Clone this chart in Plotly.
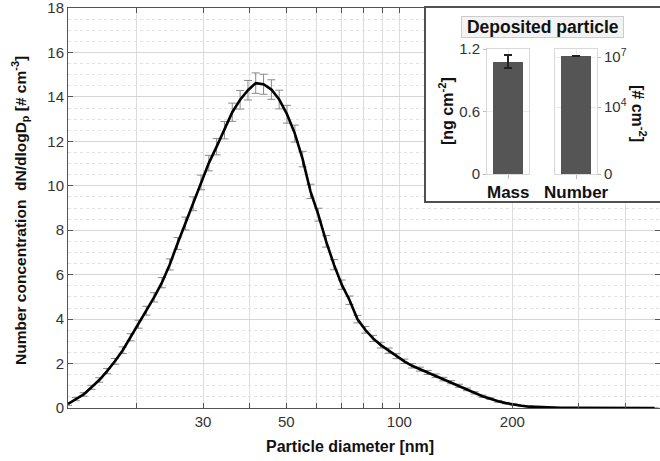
import plotly.graph_objects as go
import math

# ---------------- data ----------------
diameter_nm = [13.10, 13.74, 14.42, 15.13, 15.87, 16.65, 17.47, 18.33, 19.23, 20.18,
               21.17, 22.21, 23.30, 24.45, 25.65, 26.91, 28.23, 29.62, 31.07, 32.60,
               34.20, 35.88, 37.65, 39.50, 41.43, 43.47, 45.61, 47.85, 50.20, 52.67,
               55.25, 57.97, 60.82, 63.81, 66.94, 70.23, 73.68, 77.30, 81.10, 85.09,
               89.27, 93.65, 98.26, 103.1, 108.1, 113.4, 119.0, 124.9, 131.0, 137.4,
               144.2, 151.3, 158.7, 166.5, 174.7, 183.3, 192.3, 201.7, 211.6, 222.0,
               232.9, 244.4, 256.4, 269.0, 282.2, 296.1, 310.6, 325.9, 341.9, 358.7,
               376.3, 394.8, 414.2, 434.6, 455.9, 478.3]

dn_dlogdp = [0.18, 0.40, 0.61, 0.93, 1.26, 1.66, 2.10, 2.60, 3.18, 3.77,
             4.38, 4.98, 5.64, 6.46, 7.40, 8.30, 9.19, 10.15, 11.02, 11.76,
             12.50, 13.31, 13.87, 14.30, 14.62, 14.57, 14.33, 13.88, 13.22, 12.35,
             11.20, 9.75, 8.70, 7.50, 6.45, 5.55, 4.85, 4.00, 3.52, 3.13,
             2.83, 2.58, 2.33, 2.10, 1.90, 1.75, 1.60, 1.45, 1.30, 1.16,
             1.00, 0.84, 0.68, 0.53, 0.42, 0.30, 0.22, 0.15, 0.10, 0.06,
             0.04, 0.02, 0.01, 0.005, 0.004, 0.003, 0.002, 0.002, 0.001, 0.001,
             0.001, 0.0, 0.0, 0.0, 0.0, 0.0]

dn_err = [0.06, 0.07, 0.08, 0.09, 0.10, 0.12, 0.13, 0.15, 0.16, 0.18,
          0.20, 0.21, 0.23, 0.25, 0.27, 0.29, 0.31, 0.33, 0.35, 0.37,
          0.39, 0.41, 0.42, 0.44, 0.46, 0.45, 0.44, 0.42, 0.40, 0.38,
          0.35, 0.32, 0.29, 0.26, 0.23, 0.21, 0.19, 0.17, 0.15, 0.14,
          0.13, 0.12, 0.11, 0.10, 0.10, 0.09, 0.09, 0.08, 0.08, 0.07,
          0.07, 0.06, 0.05, 0.05, 0.04, 0.04, 0.03, 0.03, 0.02, 0.02,
          0.01, 0.01, 0.01, 0.0, 0.0, 0.0, 0.0, 0.0, 0.0, 0.0,
          0.0, 0.0, 0.0, 0.0, 0.0, 0.0]

x_tick_vals = [30, 50, 100, 200]
x_tick_text = ["30", "50", "100", "200"]
x_minor_vals = [20, 40, 60, 70, 80, 90, 300, 400]

mass_label = ["Mass"]
mass_value = [1.08]
mass_err = [0.062]

number_label = ["Number"]
number_value = [1.15e7]
number_err = [0.04e7]

FONT = "Liberation Sans, Arial, Helvetica, sans-serif"

# ---------------- pixel layout helpers ----------------
W, H = 660, 461
L, R, T, B = 68, 0, 8, 53
PW, PH = W - L - R, H - T - B


def px(X):
    return (X - L) / PW


def py(Y):
    return (H - B - Y) / PH


fig = go.Figure()

# main curve with error bars
fig.add_trace(go.Scatter(
    x=diameter_nm, y=dn_dlogdp, mode="lines",
    line=dict(color="black", width=2.6),
    error_y=dict(type="data", array=dn_err, visible=True,
                 color="#8a8a8a", thickness=1, width=4),
    showlegend=False, hoverinfo="skip", xaxis="x", yaxis="y"))

# dummy trace for inset background subplot
fig.add_trace(go.Scatter(x=[], y=[], xaxis="x2", yaxis="y2",
                         showlegend=False, hoverinfo="skip"))

# mass bar
fig.add_trace(go.Bar(
    x=[0], y=mass_value, width=1.0, marker=dict(color="#555555", line=dict(width=0)),
    error_y=dict(type="data", array=mass_err, color="#222", thickness=1.2, width=4),
    showlegend=False, hoverinfo="skip", xaxis="x3", yaxis="y3"))

# number bar (log axis)
fig.add_trace(go.Bar(
    x=[0], y=number_value, base=1, width=1.0, marker=dict(color="#555555", line=dict(width=0)),
    error_y=dict(type="data", array=number_err, color="#222", thickness=1.2, width=4),
    showlegend=False, hoverinfo="skip", xaxis="x4", yaxis="y4"))

xlo = math.log10(diameter_nm[0])
xhi = xlo + PW / 375.4

axis_col = "#555555"
tick_font = dict(family=FONT, size=15, color="#333333")

inset_x0, inset_y0 = 426, 201
mass_dom_x = [px(487), px(529)]
num_dom_x = [px(555), px(597)]
bar_dom_y = [py(174), py(49)]

fig.update_layout(
    width=W, height=H,
    margin=dict(l=L, r=R, t=T, b=B, autoexpand=False),
    paper_bgcolor="white", plot_bgcolor="white",
    font=dict(family=FONT, color="#222"),
    bargap=0,
    xaxis=dict(
        type="log", range=[xlo, xhi], domain=[0, 1], anchor="y",
        tickmode="array", tickvals=x_tick_vals, ticktext=x_tick_text,
        ticks="inside", ticklen=5, tickcolor=axis_col,
        minor=dict(tickmode="array", tickvals=x_minor_vals, ticks="inside",
                   ticklen=5, tickcolor=axis_col, showgrid=True,
                   gridcolor="#dddddd", gridwidth=1),
        showline=True, linecolor=axis_col, linewidth=1, mirror="ticks",
        showgrid=True, gridcolor="#dddddd", gridwidth=1,
        zeroline=False, tickfont=tick_font),
    yaxis=dict(
        range=[0, 18], domain=[0, 1], anchor="x",
        tickmode="linear", tick0=0, dtick=2,
        ticks="inside", ticklen=5, tickcolor=axis_col,
        showline=True, linecolor=axis_col, linewidth=1, mirror="ticks",
        showgrid=True, gridcolor="#d6d6d6", gridwidth=1,
        minor=dict(dtick=0.5, showgrid=True, gridcolor="#e2e2e2", griddash="dot", ticks=""),
        zeroline=False, tickfont=tick_font, ticklabeloverflow="allow"),
    # inset background
    xaxis2=dict(domain=[px(inset_x0), 1.0], range=[0, 1], anchor="y2",
                showgrid=False, zeroline=False, showticklabels=False, ticks="",
                showline=True, linecolor="#505050", linewidth=1.5, mirror=True),
    yaxis2=dict(domain=[py(inset_y0), 1.0], range=[0, 1], anchor="x2",
                showgrid=False, zeroline=False, showticklabels=False, ticks="",
                showline=True, linecolor="#505050", linewidth=1.5, mirror=True),
    # mass panel
    xaxis3=dict(domain=mass_dom_x, range=[-0.68, 0.68], anchor="y3",
                tickmode="array", tickvals=[0], showticklabels=False,
                ticks="outside", ticklen=4, tickcolor="#bbbbbb",
                showgrid=True, gridcolor="#ebebeb", zeroline=False,
                showline=True, linecolor="#d9d9d9", mirror=True),
    yaxis3=dict(domain=bar_dom_y, range=[0, 1.2], anchor="x3",
                tickmode="array", tickvals=[0, 0.6, 1.2], ticktext=["0", "0.6", "1.2"],
                ticks="outside", ticklen=3, tickcolor="#bbbbbb",
                showgrid=True, gridcolor="#ebebeb", zeroline=False,
                showline=True, linecolor="#d9d9d9", mirror=True,
                tickfont=dict(family=FONT, size=15, color="#333")),
    # number panel
    xaxis4=dict(domain=num_dom_x, range=[-0.68, 0.68], anchor="y4",
                tickmode="array", tickvals=[0], showticklabels=False,
                ticks="outside", ticklen=4, tickcolor="#bbbbbb",
                showgrid=True, gridcolor="#ebebeb", zeroline=False,
                showline=True, linecolor="#d9d9d9", mirror=True),
    yaxis4=dict(domain=bar_dom_y, type="log", range=[0, 7.48], anchor="x4", side="right",
                tickmode="array", tickvals=[1, 1e4, 1e7],
                ticktext=["0", "10<sup>4</sup>", "10<sup>7</sup>"],
                ticks="outside", ticklen=3, tickcolor="#bbbbbb",
                showgrid=True, gridcolor="#ebebeb", zeroline=False,
                showline=True, linecolor="#d9d9d9", mirror=True,
                tickfont=dict(family=FONT, size=15, color="#333")),
)


def note(text, X, Y, size, angle=0, **kw):
    d = dict(text=text, x=px(X), y=py(Y), xref="paper", yref="paper",
             xanchor="center", yanchor="middle", showarrow=False,
             textangle=angle, font=dict(family=FONT, size=size, color="#111"))
    d.update(kw)
    return d


ann = [
    note("<b>Particle diameter [nm]</b>", 350, 447, 16),
    note("<b>Number concentration  dN/dlogD<sub>p</sub> [# cm<sup>-3</sup>]</b>", 20, 211, 15.5, -90),
    note("&nbsp;<b>Deposited particle</b>&nbsp;", 542, 27, 17.5,
         bgcolor="#f3f3f3", bordercolor="#cccccc", borderwidth=1, borderpad=0),
    note("<b>[ng cm<sup>-2</sup>]</b>", 446, 111, 16, -90),
    note("<b>[# cm<sup>-2</sup>]</b>", 639, 113, 16, 90),
    note("<b>" + mass_label[0] + "</b>", 508, 192, 17),
    note("<b>" + number_label[0] + "</b>", 576, 192, 17),
]
fig.update_layout(annotations=ann)

fig.write_html("out.html",
               config={"displayModeBar": False},
               post_script="document.body.style.margin='0';document.body.style.overflow='hidden';")
